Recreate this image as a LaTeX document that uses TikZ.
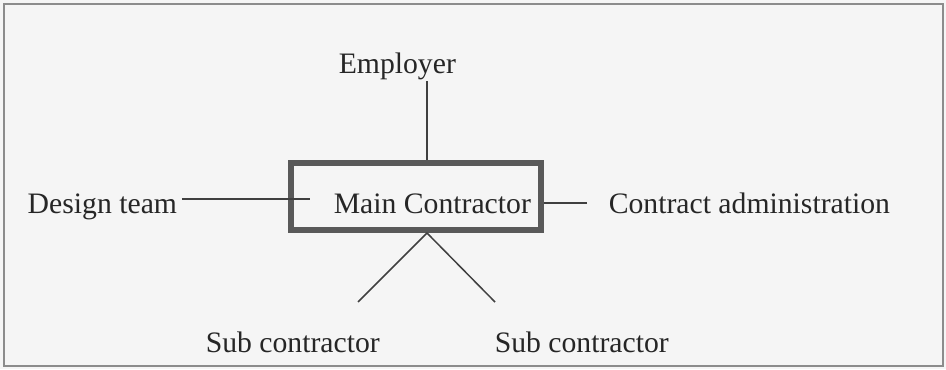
\documentclass[tikz,border=0pt]{standalone}
\usepackage{fontspec}
\setmainfont{Liberation Serif}
\usepackage{tikz}

\begin{document}
\begin{tikzpicture}[x=0.5pt, y=-0.5pt, line width=0.75pt, lbl/.style = {text=black!85, font=\fontsize{14.85}{17}\selectfont, inner sep=0pt, anchor=base west}, main/.style = {draw=black!65, line width=3pt, minimum width=125pt, minimum height=33.5pt, inner sep=0pt}, link/.style = {draw=black!75, line width=0.75pt}]
		\useasboundingbox (0,0) rectangle (946,369);
		\fill[black!4] (0,0) rectangle (946,369);
		\draw[black!45, line width=0.8pt] (4,4) rectangle (943,366);
		
		\node[main] (mc) at (416,196.5) {};
		\node[lbl] (mctext) at (333,213) {Main Contractor};
		\node[lbl] (emp) at (338,74) {Employer};
		\node[lbl] (dt) at (27,213) {Design team};
		\node[lbl] (ca) at (608,213) {Contract administration};
		\node[lbl] (sc1) at (205,352) {Sub contractor};
		\node[lbl] (sc2) at (494,352) {Sub contractor};
		
		\coordinate (mctop) at ([xshift=5.5pt]mc.north);
		\coordinate (mcbot) at ([xshift=5.5pt]mc.south);
		\coordinate (mcin) at ([xshift=11pt]mc.west);
		\coordinate (dtend) at ([xshift=2pt, yshift=3.7pt]dt.east);
		\coordinate (caend) at ([xshift=-10.5pt]ca.west);
		\coordinate (sc1end) at (358,302);
		\coordinate (sc2end) at (495,302);
		
		\draw[link] (emp.south -| mctop) -- (mctop);
		\draw[link] (dtend) -- (dtend -| mcin);
		\draw[link] (caend) -- (caend -| mc.east);
		\draw[link] (mcbot) -- (sc1end);
		\draw[link] (mcbot) -- (sc2end);
	\end{tikzpicture}
\end{document}
